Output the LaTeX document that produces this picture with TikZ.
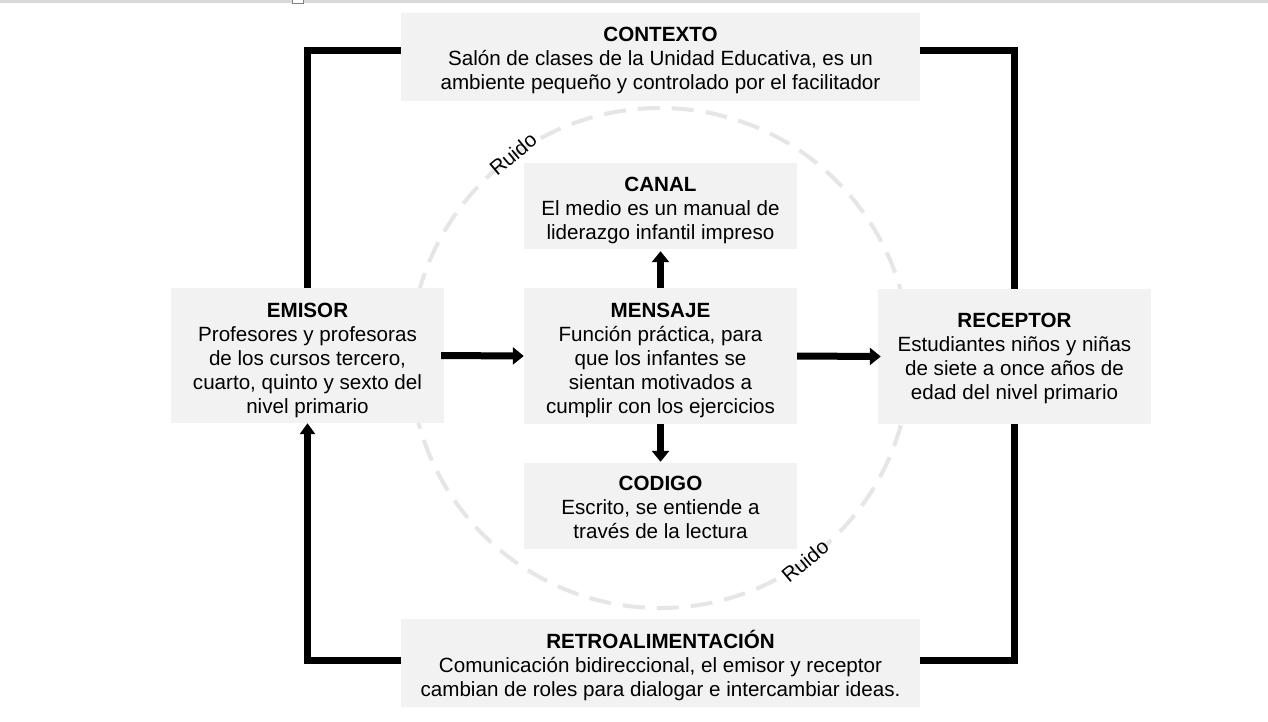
\documentclass[tikz,border=0pt]{standalone}
\usepackage{fontspec}
\setmainfont{Liberation Sans}
\usetikzlibrary{arrows.meta}
\definecolor{boxgray}{HTML}{F2F2F2}
\definecolor{ringgray}{HTML}{E6E6E6}
\definecolor{topgray}{HTML}{DADADA}
\newcommand\boxtitle[2]{\rule{0pt}{#1pt}\textbf{#2}}
\begin{document}
\begin{tikzpicture}[x=1pt,y=-1pt,
  box/.style={fill=boxgray, inner sep=0pt, align=center,
    font=\fontsize{20.6}{24}\selectfont},
  conn/.style={line width=7pt, draw=black},
  bigarrow/.style={line width=7pt, draw=black, -{Triangle[width=17pt,length=11pt]}},
  ruido/.style={font=\fontsize{20.6}{22}\selectfont, inner sep=0pt}
]
\useasboundingbox (0,0) rectangle (1268,721);
\fill[white] (0,0) rectangle (1268,721);
% top strip
\fill[topgray] (0,0) rectangle (1268,3);
\draw[gray, line width=0.8pt, fill=white] (292.5,-2) rectangle (303,3);

% noise ring
\draw[ringgray, line width=4pt, dash pattern=on 22pt off 12pt] (660,358) circle (250);

% boxes
\node[box, minimum width=519pt, minimum height=88pt] (ctx) at (660.5,57)
  {\boxtitle{21.7}{CONTEXTO}\\Salón de clases de la Unidad Educativa, es un\\ambiente pequeño y controlado por el facilitador};
\node[box, minimum width=273pt, minimum height=86pt] (canal) at (660.5,206)
  {\boxtitle{22.7}{CANAL}\\El medio es un manual de\\liderazgo infantil impreso};
\node[box, minimum width=273pt, minimum height=135pt] (emisor) at (307.5,355.5)
  {\boxtitle{24.7}{EMISOR}\\Profesores y profesoras\\de los cursos tercero,\\cuarto, quinto y sexto del\\nivel primario};
\node[box, minimum width=273pt, minimum height=136pt] (mensaje) at (660.5,356)
  {\boxtitle{22.7}{MENSAJE}\\Función práctica, para\\que los infantes se\\sientan motivados a\\cumplir con los ejercicios};
\node[box, minimum width=273pt, minimum height=135pt] (receptor) at (1014.5,356.5)
  {\boxtitle{18.7}{RECEPTOR}\\Estudiantes niños y niñas\\de siete a once años de\\edad del nivel primario};
\node[box, minimum width=273pt, minimum height=86pt] (codigo) at (660.5,506)
  {\boxtitle{16.7}{CODIGO}\\Escrito, se entiende a\\través de la lectura};
\node[box, minimum width=519pt, minimum height=88pt] (retro) at (660.5,663)
  {\boxtitle{23}{RETROALIMENTACIÓN}\\Comunicación bidireccional, el emisor y receptor\\cambian de roles para dialogar e intercambiar ideas.};

% noise labels
\node[ruido] (r1) at (513,154) {\rotatebox{40}{Ruido}};
\node[ruido] (r2) at (805,561) {\rotatebox{40}{Ruido}};

% loop connectors
\draw[conn] ([yshift=7pt]ctx.west) -| (emisor.north);
\draw[conn] ([yshift=7pt]ctx.east) -| (receptor.north);
\draw[conn] (receptor.south) |- ([yshift=3pt]retro.east);
\draw[bigarrow, -{Triangle[width=15pt,length=11pt]}] ([yshift=3pt]retro.west) -| (emisor.south);

% message arrows
\draw[bigarrow] ([xshift=-3pt]emisor.east) -- (mensaje.west);
\draw[bigarrow] (mensaje.east) -- ([xshift=3pt]receptor.west);
\draw[bigarrow] (mensaje.north) -- ([yshift=-2pt]canal.south);
\draw[bigarrow] (mensaje.south) -- ([yshift=1pt]codigo.north);
\end{tikzpicture}
\end{document}
